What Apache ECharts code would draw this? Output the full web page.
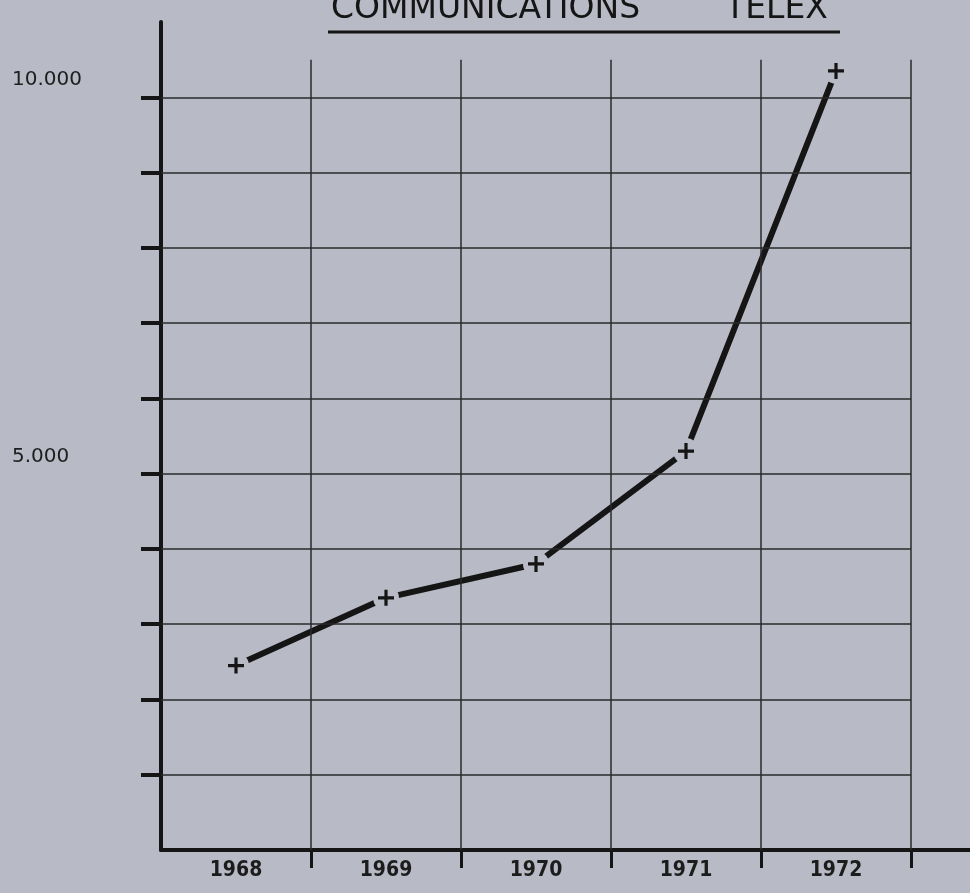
<!DOCTYPE html>
<html>
<head>
<meta charset="utf-8">
<title>Communications Telex</title>
<script src="https://cdn.jsdelivr.net/npm/echarts@6/dist/echarts.min.js"></script>
<style>
  html, body { margin: 0; padding: 0; background: #b8bbc6; }
  #chart { width: 970px; height: 893px; }
</style>
</head>
<body>
<div id="chart"></div>
<script>
// years on the x axis
const years = ["1968", "1969", "1970", "1971", "1972"];
// number of telex communications
const telex = [2450, 3350, 3800, 5300, 10350];
// horizontal grid lines / y ticks
const yTicks = [1000, 2000, 3000, 4000, 5000, 6000, 7000, 8000, 9000, 10000];
// only these get a label
const yLabels = [5000, 10000];
// column boundaries (vertical grid lines)
const columnEdges = [1, 2, 3, 4, 5];

const bg = "#b8bbc6";
const ink = "#151515";

const chart = echarts.init(document.getElementById("chart"));

const options = {
  backgroundColor: bg,
  animation: false,
  title: [
    {
      text: "COMMUNICATIONS",
      left: 331,
      top: -7,
      padding: 0,
      textStyle: { color: ink, fontSize: 33, fontWeight: "normal", fontFamily: "DejaVu Sans" },
    },
    {
      text: "TELEX",
      left: 725,
      top: -7,
      padding: 0,
      textStyle: { color: ink, fontSize: 33, fontWeight: "normal", fontFamily: "DejaVu Sans" },
    },
  ],
  graphic: [
    {
      // title underline
      type: "line",
      shape: { x1: 328, y1: 32, x2: 840, y2: 32 },
      style: { stroke: ink, lineWidth: 3 },
    },
    {
      // x axis line runs on past the last column
      type: "line",
      shape: { x1: 909, y1: 850, x2: 970, y2: 850 },
      style: { stroke: ink, lineWidth: 4 },
    },
  ],
  grid: { left: 161, right: 59, top: 22, bottom: 43 },
  xAxis: [
    {
      type: "category",
      data: years,
      boundaryGap: true,
      position: "bottom",
      axisLine: { show: true, lineStyle: { color: ink, width: 4 } },
      axisTick: { show: false },
      splitLine: { show: false },
      axisLabel: {
        margin: 10,
        color: "#1c1c1c",
        fontSize: 21,
        fontWeight: "bold",
        fontFamily: "'DejaVu Sans Condensed', 'Liberation Sans Narrow', 'DejaVu Sans'",
      },
    },
    {
      type: "value",
      min: 0,
      max: 5,
      position: "bottom",
      axisLine: { show: false },
      axisLabel: { show: false },
      splitLine: { show: false },
      axisTick: {
        show: true,
        customValues: columnEdges,
        inside: false,
        length: 18,
        lineStyle: { color: ink, width: 3 },
      },
    },
  ],
  yAxis: {
    type: "value",
    min: 0,
    max: 11000,
    interval: 1000,
    axisLine: { show: true, onZero: false, lineStyle: { color: ink, width: 4 } },
    axisTick: {
      show: true,
      customValues: yTicks,
      length: 20,
      lineStyle: { color: ink, width: 4 },
    },
    splitLine: { show: false },
    axisLabel: {
      customValues: yLabels,
      align: "left",
      margin: 149,
      verticalAlign: "bottom",
      padding: [0, 0, 7, 0],
      color: "#1e1e1e",
      fontSize: 20,
      fontFamily: "DejaVu Sans",
      formatter: function (v) {
        return String(v).replace(/\B(?=(\d{3})+(?!\d))/g, ".");
      },
    },
  },
  series: [
    {
      // grid lines drawn on the hidden value axis
      name: "grid",
      type: "line",
      xAxisIndex: 1,
      data: [],
      silent: true,
      clip: false,
      markLine: {
        silent: true,
        symbol: ["none", "none"],
        label: { show: false },
        emphasis: { disabled: true },
        lineStyle: { color: "#2a2a2a", width: 1.5, type: "solid" },
        data: yTicks
          .map((v) => [{ coord: [0, v] }, { coord: [5, v] }])
          .concat(columnEdges.map((x) => [{ coord: [x, 0] }, { coord: [x, 10500] }])),
      },
    },
    {
      name: "Telex",
      type: "line",
      data: telex,
      z: 3,
      symbol: "circle",
      symbolSize: 26,
      itemStyle: { color: bg, borderWidth: 0 },
      lineStyle: { color: ink, width: 6, cap: "round" },
    },
    {
      name: "points",
      type: "scatter",
      data: telex,
      z: 4,
      symbol:
        "path://M-1.6,-8 L1.6,-8 L1.6,-1.6 L8,-1.6 L8,1.6 L1.6,1.6 L1.6,8 L-1.6,8 L-1.6,1.6 L-8,1.6 L-8,-1.6 L-1.6,-1.6 Z",
      symbolSize: 16,
      itemStyle: { color: ink, opacity: 1 },
    },
  ],
};

chart.setOption(options);
</script>
</body>
</html>
